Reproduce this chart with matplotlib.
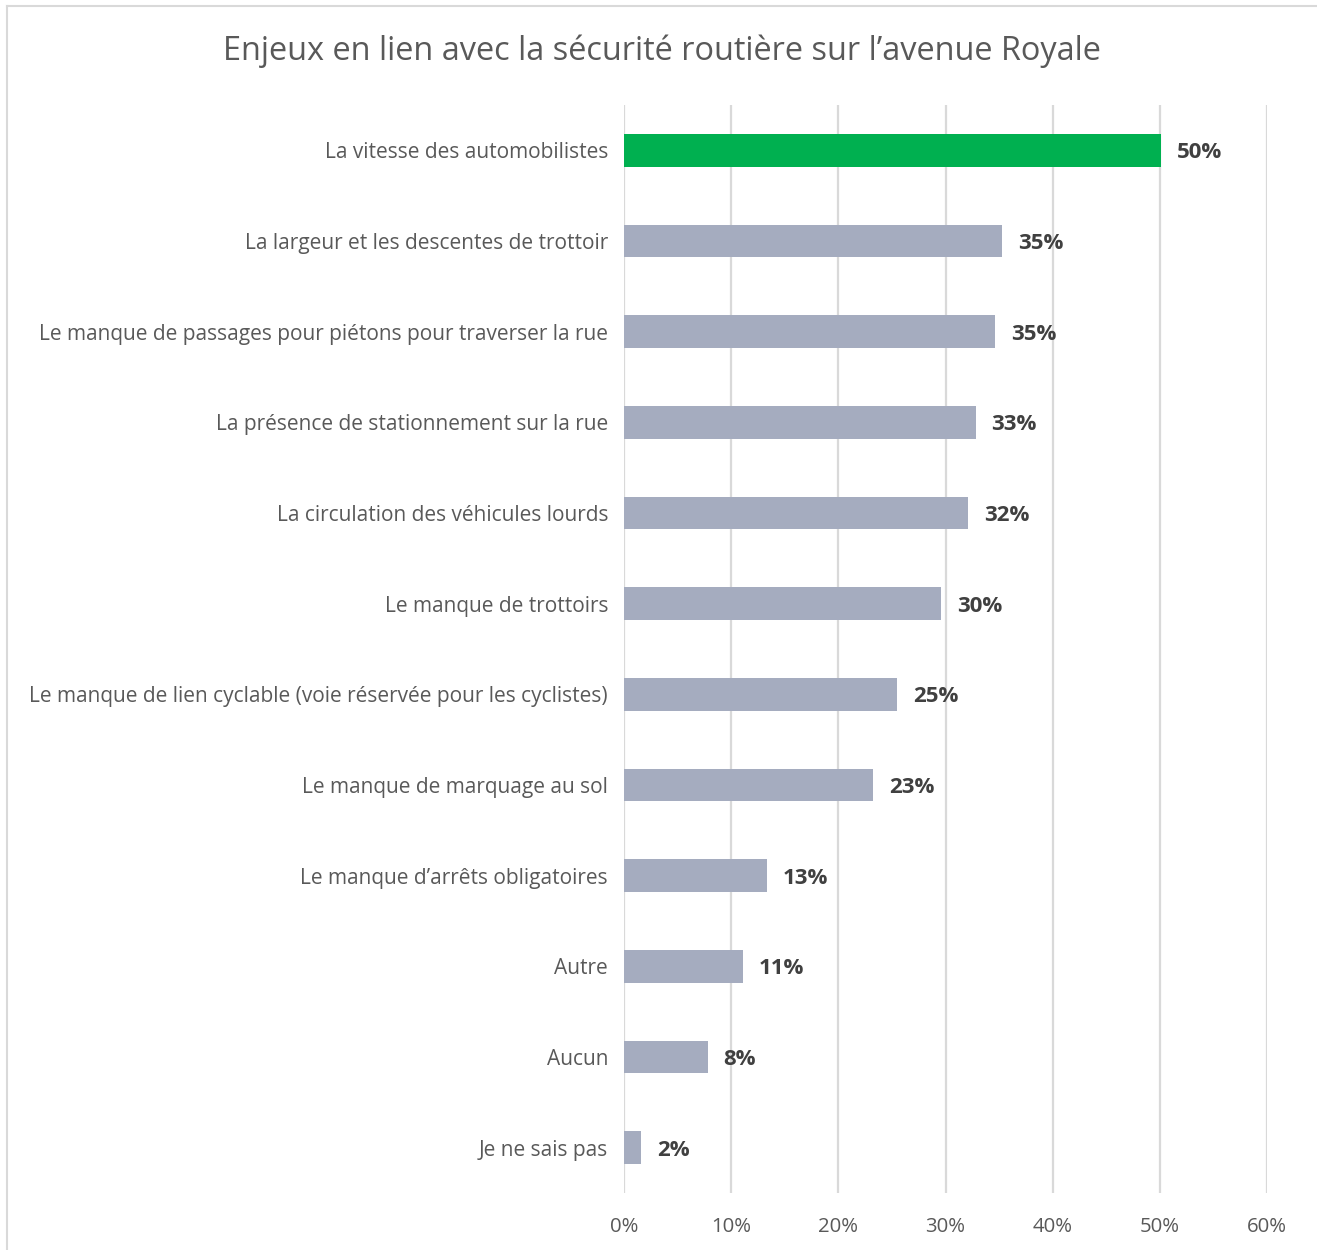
import matplotlib
matplotlib.use("Agg")
import matplotlib.pyplot as plt
from matplotlib.ticker import FuncFormatter
from matplotlib.lines import Line2D

categories = [
    "La vitesse des automobilistes",
    "La largeur et les descentes de trottoir",
    "Le manque de passages pour piétons pour traverser la rue",
    "La présence de stationnement sur la rue",
    "La circulation des véhicules lourds",
    "Le manque de trottoirs",
    "Le manque de lien cyclable (voie réservée pour les cyclistes)",
    "Le manque de marquage au sol",
    "Le manque d’arrêts obligatoires",
    "Autre",
    "Aucun",
    "Je ne sais pas",
]
values = [50.1, 35.3, 34.6, 32.8, 32.1, 29.6, 25.5, 23.2, 13.3, 11.1, 7.8, 1.6]
value_labels = ["50%", "35%", "35%", "33%", "32%", "30%", "25%", "23%", "13%", "11%", "8%", "2%"]
x_ticks = [0, 10, 20, 30, 40, 50, 60]
title = "Enjeux en lien avec la sécurité routière sur l’avenue Royale"

FONT = ["Open Sans", "DejaVu Sans"]
plt.rcParams['font.family'] = FONT

W, H = 1317, 1250
fig = plt.figure(figsize=(W / 100, H / 100), dpi=100)
ax = fig.add_axes([624 / W, 1 - 1193 / H, (1267 - 624) / W, (1193 - 105) / H])

colors = ["#00B050"] + ["#A5ACBF"] * (len(values) - 1)
ypos = list(range(len(categories)))
ax.barh(ypos, values, height=0.36, color=colors, zorder=3)
ax.set_ylim(len(categories) - 0.5, -0.5)
ax.set_xlim(0, 60)
ax.set_xticks(x_ticks)
ax.xaxis.set_major_formatter(FuncFormatter(lambda v, p: f"{v:.0f}%"))
ax.set_yticks(ypos)
ax.set_yticklabels(categories)
ax.tick_params(axis="y", length=0, pad=11.5, labelsize=15, labelcolor="#595959")
ax.tick_params(axis="x", length=0, pad=17, labelsize=14.7, labelcolor="#595959")
ax.grid(axis="x", color="#D9D9D9", linewidth=1.6, zorder=0)
for s in ax.spines.values():
    s.set_visible(False)

for y, v, lab in zip(ypos, values, value_labels):
    ax.text(v + 1.5, y, lab, va="center_baseline", ha="left", fontsize=16,
            fontweight="bold", color="#404040", zorder=4)

fig.text(662 / W, 1 - 51 / H, title, ha="center", va="center",
         fontsize=23.4, color="#595959")

# chart frame
fig.add_artist(Line2D([7 / W, 7 / W], [0, 1 - 6 / H], color="#D9D9D9", lw=1.5,
                      transform=fig.transFigure))
fig.add_artist(Line2D([7 / W, 1], [1 - 6 / H, 1 - 6 / H], color="#D9D9D9", lw=1.5,
                      transform=fig.transFigure))

fig.savefig("out.png", dpi=100, facecolor="white")
